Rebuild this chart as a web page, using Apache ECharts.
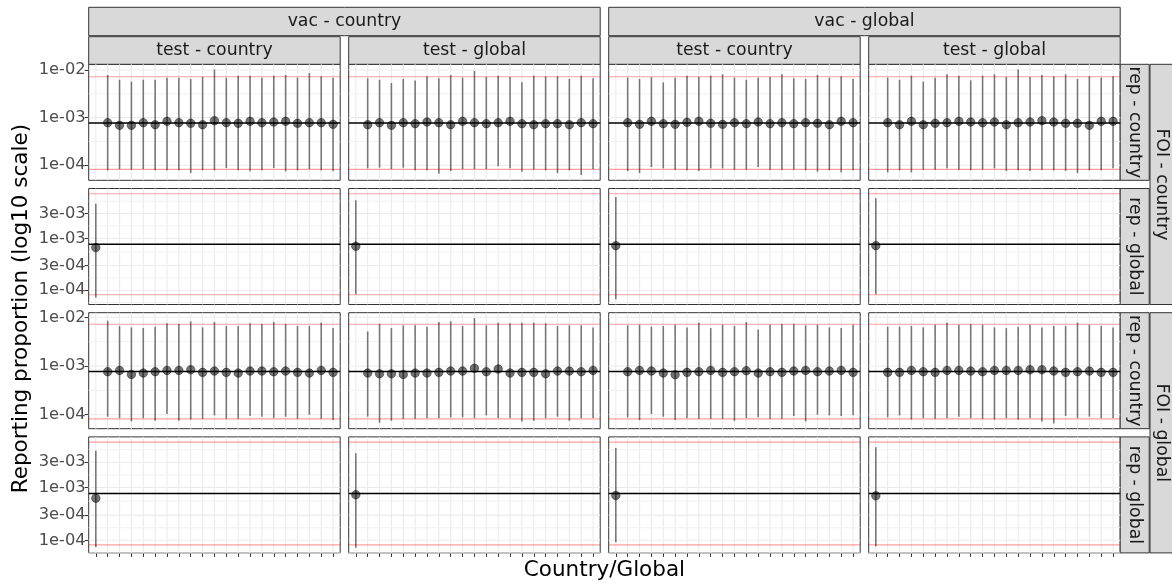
<!DOCTYPE html>
<html><head><meta charset="utf-8">
<script src="https://cdn.jsdelivr.net/npm/echarts@6/dist/echarts.min.js"></script>
<style>html,body{margin:0;padding:0;background:#fff}#c{width:1172px;height:584px}</style>
</head><body><div id="c"></div>
<script>
// ---------------- data ----------------
const categories = ['Global','C01','C02','C03','C04','C05','C06','C07','C08','C09','C10',
  'C11','C12','C13','C14','C15','C16','C17','C18','C19','C20'];
const countryCats = categories.slice(1);
const vacLevels = ['vac - country','vac - global'];
const testLevels = ['test - country','test - global'];
const foiLevels = ['FOI - country','FOI - global'];
const repLevels = ['rep - country','rep - global'];

const trueValue = 7.7e-4;
const priorLow = 8.2e-5;
const priorHigh = 7.2e-3;

const yBreaksCountry = [1e-4, 1e-3, 1e-2];
const yLabelsCountry = ['1e-04','1e-03','1e-02'];
const yBreaksGlobal = [1e-4, 3e-4, 1e-3, 3e-3];
const yLabelsGlobal = ['1e-04','3e-04','1e-03','3e-03'];

// FOI - country, rep - country
const fcVcTcEst = [7.84e-4,6.89e-4,6.89e-4,7.84e-4,7.11e-4,8.36e-4,7.84e-4,7.59e-4,7.11e-4,8.64e-4,7.84e-4,7.59e-4,8.36e-4,7.84e-4,8.09e-4,8.36e-4,7.59e-4,7.84e-4,7.84e-4,7.22e-4];
const fcVcTcHi  = [7.85e-3,6.25e-3,5.68e-3,6.25e-3,6.25e-3,6.9e-3,6.9e-3,6.46e-3,7.13e-3,1.02e-2,6.9e-3,7.6e-3,7.6e-3,6.9e-3,7.6e-3,7.85e-3,6.9e-3,8.65e-3,7.36e-3,6.9e-3];
const fcVcTcLo  = [7.83e-5,8.35e-5,8.09e-5,8.35e-5,7.83e-5,7.83e-5,7.83e-5,6.87e-5,7.83e-5,7.83e-5,8.77e-5,7.83e-5,7.45e-5,7.83e-5,8.77e-5,7.45e-5,7.83e-5,8.35e-5,7.83e-5,7.45e-5];

const fcVcTgEst = [7.11e-4,7.84e-4,6.89e-4,7.84e-4,7.47e-4,8.09e-4,7.84e-4,7.11e-4,8.36e-4,7.84e-4,7.47e-4,7.84e-4,8.36e-4,7.47e-4,7.11e-4,7.47e-4,7.47e-4,7.11e-4,7.84e-4,7.47e-4];
const fcVcTgHi  = [6.68e-3,6.25e-3,5.32e-3,6.46e-3,6.05e-3,7.36e-3,6.68e-3,7.85e-3,6.9e-3,9.54e-3,7.13e-3,7.6e-3,7.13e-3,5.5e-3,7.6e-3,7.36e-3,7.36e-3,6.46e-3,7.6e-3,6.68e-3];
const fcVcTgLo  = [8.63e-5,8.91e-5,8.35e-5,8.91e-5,7.83e-5,7.83e-5,6.65e-5,7.59e-5,8.35e-5,8.35e-5,8.35e-5,9.5e-5,8.63e-5,7.33e-5,8.09e-5,7.83e-5,6.87e-5,7.83e-5,6.24e-5,8.35e-5];

const fcVgTcEst = [7.84e-4,7.22e-4,8.36e-4,7.47e-4,7.22e-4,7.96e-4,8.36e-4,7.59e-4,7.22e-4,7.84e-4,7.47e-4,8.09e-4,7.47e-4,7.84e-4,7.47e-4,7.84e-4,7.59e-4,7.11e-4,8.36e-4,7.84e-4];
const fcVgTcHi  = [6.9e-3,6.46e-3,7.02e-3,5.5e-3,6.9e-3,7.6e-3,7.13e-3,7.6e-3,8.11e-3,6.9e-3,6.25e-3,6.9e-3,7.13e-3,8.11e-3,6.68e-3,6.46e-3,7.85e-3,6.9e-3,7.36e-3,6.46e-3];
const fcVgTcLo  = [7.59e-5,6.87e-5,9.2e-5,8.63e-5,8.09e-5,7.83e-5,7.59e-5,8.63e-5,8.63e-5,8.09e-5,8.09e-5,9.2e-5,8.09e-5,8.09e-5,8.09e-5,7.83e-5,7.33e-5,7.83e-5,7.1e-5,7.83e-5];

const fcVgTgEst = [7.84e-4,7.11e-4,8.36e-4,7.11e-4,7.59e-4,7.84e-4,8.36e-4,8.09e-4,7.84e-4,8.09e-4,7.11e-4,7.84e-4,8.09e-4,8.64e-4,8.09e-4,7.59e-4,7.59e-4,6.89e-4,8.36e-4,8.36e-4];
const fcVgTgHi  = [6.9e-3,6.25e-3,7.6e-3,5.68e-3,6.9e-3,8.11e-3,7.6e-3,6.05e-3,7.6e-3,8.11e-3,7.13e-3,1.02e-2,7.13e-3,7.85e-3,7.36e-3,8.11e-3,6.46e-3,7.36e-3,6.9e-3,7.36e-3];
const fcVgTgLo  = [7.1e-5,7.83e-5,7.1e-5,8.09e-5,8.09e-5,8.63e-5,8.09e-5,7.83e-5,8.09e-5,8.63e-5,7.59e-5,7.83e-5,7.59e-5,8.09e-5,7.83e-5,7.59e-5,6.87e-5,7.83e-5,7.83e-5,8.63e-5];

// FOI - global, rep - country
const fgVcTcEst = [7.64e-4,8.13e-4,6.73e-4,7.16e-4,7.64e-4,8.13e-4,8.13e-4,8.4e-4,7.4e-4,7.88e-4,7.4e-4,7.16e-4,7.88e-4,7.88e-4,7.64e-4,7.88e-4,7.4e-4,7.16e-4,8.13e-4,7.4e-4];
const fgVcTcHi  = [8.53e-3,6.62e-3,6.21e-3,6.01e-3,6.41e-3,7.51e-3,7.28e-3,8.26e-3,6.21e-3,8.0e-3,6.62e-3,6.62e-3,7.51e-3,7.28e-3,8.0e-3,7.28e-3,6.62e-3,6.62e-3,7.76e-3,6.01e-3];
const fgVcTcLo  = [9.09e-5,8.53e-5,7.28e-5,8.53e-5,7.51e-5,1.03e-4,7.51e-5,8.0e-5,8.26e-5,9.69e-5,8.26e-5,8.26e-5,9.38e-5,9.09e-5,8.53e-5,9.09e-5,8.26e-5,1.0e-4,8.26e-5,7.76e-5];

const fgVcTgEst = [7.16e-4,6.93e-4,6.93e-4,6.73e-4,7.16e-4,7.16e-4,7.4e-4,7.88e-4,7.88e-4,8.95e-4,7.64e-4,8.67e-4,7.16e-4,7.4e-4,7.4e-4,6.93e-4,7.88e-4,7.88e-4,7.64e-4,8.13e-4];
const fgVcTgHi  = [5.13e-3,7.28e-3,6.01e-3,6.83e-3,6.83e-3,6.41e-3,8.0e-3,8.26e-3,6.62e-3,9.69e-3,6.83e-3,7.76e-3,7.51e-3,7.76e-3,7.76e-3,7.51e-3,6.62e-3,6.83e-3,6.83e-3,6.21e-3];
const fgVcTgLo  = [9.09e-5,6.83e-5,7.51e-5,8.26e-5,8.26e-5,8.53e-5,8.53e-5,8.82e-5,8.82e-5,8.53e-5,9.69e-5,8.53e-5,8.53e-5,7.28e-5,7.51e-5,8.53e-5,9.09e-5,7.51e-5,8.53e-5,8.53e-5];

const fgVgTcEst = [7.64e-4,8.13e-4,7.88e-4,7.16e-4,6.62e-4,7.4e-4,7.64e-4,8.13e-4,7.4e-4,7.64e-4,8.0e-4,7.16e-4,7.64e-4,7.4e-4,7.88e-4,8.13e-4,7.64e-4,7.88e-4,8.13e-4,7.4e-4];
const fgVgTcHi  = [6.83e-3,7.05e-3,6.41e-3,6.62e-3,7.05e-3,6.21e-3,7.76e-3,6.01e-3,7.05e-3,6.62e-3,8.0e-3,5.65e-3,7.05e-3,7.28e-3,7.28e-3,6.83e-3,7.05e-3,6.21e-3,6.01e-3,7.05e-3];
const fgVgTcLo  = [8.82e-5,7.76e-5,1.03e-4,9.09e-5,7.76e-5,8.53e-5,8.26e-5,8.26e-5,8.26e-5,7.51e-5,8.53e-5,8.82e-5,8.26e-5,8.26e-5,9.38e-5,7.28e-5,1.0e-4,9.69e-5,9.38e-5,9.69e-5];

const fgVgTgEst = [7.4e-4,7.4e-4,8.13e-4,7.64e-4,7.4e-4,8.13e-4,8.13e-4,7.88e-4,7.64e-4,8.13e-4,8.13e-4,8.13e-4,8.4e-4,8.4e-4,7.88e-4,7.4e-4,7.64e-4,7.88e-4,7.4e-4,7.4e-4];
const fgVgTgHi  = [6.41e-3,6.41e-3,6.62e-3,6.21e-3,7.05e-3,7.76e-3,7.05e-3,7.28e-3,7.05e-3,6.21e-3,6.01e-3,6.41e-3,7.05e-3,6.21e-3,6.62e-3,6.62e-3,7.76e-3,7.05e-3,6.62e-3,6.21e-3];
const fgVgTgLo  = [8.82e-5,9.69e-5,8.0e-5,8.53e-5,8.26e-5,8.53e-5,9.09e-5,8.53e-5,8.26e-5,8.0e-5,8.53e-5,8.0e-5,8.53e-5,7.28e-5,6.62e-5,9.38e-5,8.53e-5,9.09e-5,8.53e-5,8.53e-5];

// rep - global panels (one Global estimate per column: vacC-testC, vacC-testG, vacG-testC, vacG-testG)
const fcGlobalEst = [6.62e-4, 7.02e-4, 7.22e-4, 7.22e-4];
const fcGlobalLo  = [7.23e-5, 8.37e-5, 6.71e-5, 8.37e-5];
const fcGlobalHi  = [4.64e-3, 5.38e-3, 6.24e-3, 5.88e-3];
const fgGlobalEst = [6.26e-4, 7.26e-4, 7.05e-4, 6.95e-4];
const fgGlobalLo  = [7.46e-5, 7.26e-5, 9.16e-5, 7.69e-5];
const fgGlobalHi  = [4.97e-3, 4.43e-3, 5.58e-3, 5.74e-3];

// ---------------- layout / style ----------------
const FONT = '"DejaVu Sans", sans-serif';
const PANEL_LEFT = 88.7, PANEL_W = 251.5, GAP_X = 8.5;
const PANEL_TOP = 64.3, PANEL_H = 116, GAP_Y = 8.2;
const colLeft = c => PANEL_LEFT + c * (PANEL_W + GAP_X);
const rowTop = r => PANEL_TOP + r * (PANEL_H + GAP_Y);

const L = Math.log10;
const xOf = name => categories.indexOf(name) + 1;

function countryPanel(est, lo, hi) { return {cats: countryCats, est, lo, hi}; }
function globalPanel(est, lo, hi, c) { return {cats: ['Global'], est: [est[c]], lo: [lo[c]], hi: [hi[c]]}; }

const rows = [
  {global: false, panels: [countryPanel(fcVcTcEst,fcVcTcLo,fcVcTcHi), countryPanel(fcVcTgEst,fcVcTgLo,fcVcTgHi), countryPanel(fcVgTcEst,fcVgTcLo,fcVgTcHi), countryPanel(fcVgTgEst,fcVgTgLo,fcVgTgHi)]},
  {global: true, panels: [0,1,2,3].map(c => globalPanel(fcGlobalEst, fcGlobalLo, fcGlobalHi, c))},
  {global: false, panels: [countryPanel(fgVcTcEst,fgVcTcLo,fgVcTcHi), countryPanel(fgVcTgEst,fgVcTgLo,fgVcTgHi), countryPanel(fgVgTcEst,fgVgTcLo,fgVgTcHi), countryPanel(fgVgTgEst,fgVgTgLo,fgVgTgHi)]},
  {global: true, panels: [0,1,2,3].map(c => globalPanel(fgGlobalEst, fgGlobalLo, fgGlobalHi, c))}
];

function rowRange(panels) {
  const los = [L(priorLow), L(trueValue)], his = [L(priorHigh), L(trueValue)];
  panels.forEach(p => { p.lo.forEach(v => los.push(L(v))); p.hi.forEach(v => his.push(L(v))); });
  const a = Math.min(...los), b = Math.max(...his), pad = (b - a) * 0.05;
  return [a - pad, b + pad];
}
function minorBreaks(b, lim) {
  const bd = b[1] - b[0], bb = b.slice();
  if (lim[0] < bb[0]) bb.unshift(bb[0] - bd);
  if (lim[1] > bb[bb.length - 1]) bb.push(bb[bb.length - 1] + bd);
  const out = [];
  for (let i = 0; i < bb.length - 1; i++) { const m = (bb[i] + bb[i + 1]) / 2; if (m >= lim[0] && m <= lim[1]) out.push(m); }
  return out;
}

const ruleStyles = {
  0: {stroke: '#EBEBEB', lineWidth: 1.1},
  1: {stroke: '#EBEBEB', lineWidth: 1.1},
  2: {stroke: '#F0F0F0', lineWidth: 0.9},
  3: {stroke: 'rgba(255,0,0,0.38)', lineWidth: 1.1},
  4: {stroke: '#000000', lineWidth: 1.4}
};
function renderRule(params, api) {
  const cs = params.coordSys;
  const kind = api.value(0), v = api.value(1);
  if (kind === 0) {
    const x = api.coord([v, 0])[0];
    return {type: 'line', shape: {x1: x, y1: cs.y, x2: x, y2: cs.y + cs.height}, style: ruleStyles[kind], silent: true};
  }
  const y = api.coord([1, v])[1];
  return {type: 'line', shape: {x1: cs.x, y1: y, x2: cs.x + cs.width, y2: y}, style: ruleStyles[kind], silent: true};
}
function renderBar(params, api) {
  const x = api.value(0);
  const p1 = api.coord([x, api.value(1)]), p2 = api.coord([x, api.value(2)]);
  return {type: 'line', shape: {x1: p1[0], y1: p1[1], x2: p2[0], y2: p2[1]},
          style: {stroke: 'rgba(0,0,0,0.5)', lineWidth: 1.6}, silent: true};
}

const grids = [], xAxes = [], yAxes = [], series = [];
const xTickVals = categories.map(xOf);

rows.forEach((row, r) => {
  const range = rowRange(row.panels);
  const breaks = (row.global ? yBreaksGlobal : yBreaksCountry).map(L);
  const labels = row.global ? yLabelsGlobal : yLabelsCountry;
  const majors = breaks.filter(b => b >= range[0] && b <= range[1]);
  const minors = minorBreaks(breaks, range);
  row.panels.forEach((p, c) => {
    const g = r * 4 + c;
    grids.push({left: colLeft(c), top: rowTop(r), width: PANEL_W, height: PANEL_H,
      show: true, borderColor: '#333333', borderWidth: 1, backgroundColor: 'transparent', containLabel: false});
    xAxes.push({gridIndex: g, type: 'value', min: 0.4, max: categories.length + 0.6,
      axisLine: {show: false}, splitLine: {show: false},
      axisLabel: {show: false},
      axisTick: {show: r === 3, customValues: xTickVals, length: 4, lineStyle: {color: '#333333', width: 1}}});
    yAxes.push({gridIndex: g, type: 'value', min: range[0], max: range[1],
      axisLine: {show: false}, splitLine: {show: false},
      axisTick: {show: c === 0, customValues: majors, length: 4, lineStyle: {color: '#333333', width: 1}},
      axisLabel: {show: c === 0, customValues: majors, margin: 3, color: '#4D4D4D', fontSize: 16.3, fontFamily: FONT,
        formatter: val => { const i = breaks.findIndex(b => Math.abs(b - val) < 1e-6); return i >= 0 ? labels[i] : ''; }}});

    const rules = xTickVals.map(x => [0, x])
      .concat(minors.map(v => [2, v]))
      .concat(majors.map(v => [1, v]));
    series.push({type: 'custom', xAxisIndex: g, yAxisIndex: g, z: 1, silent: true,
      renderItem: renderRule, data: rules});
    series.push({type: 'custom', xAxisIndex: g, yAxisIndex: g, z: 2, silent: true,
      renderItem: renderRule, data: [[3, L(priorLow)], [3, L(priorHigh)], [4, L(trueValue)]]});
    series.push({type: 'custom', xAxisIndex: g, yAxisIndex: g, z: 3, silent: true,
      renderItem: renderBar, encode: {x: 0, y: [1, 2]},
      data: p.cats.map((name, i) => [xOf(name), L(p.lo[i]), L(p.hi[i])])});
    series.push({type: 'scatter', xAxisIndex: g, yAxisIndex: g, z: 4, silent: true,
      symbol: 'circle', symbolSize: 8.5,
      itemStyle: {color: 'rgba(0,0,0,0.55)', borderColor: 'rgba(0,0,0,0.4)', borderWidth: 1, opacity: 1},
      data: p.cats.map((name, i) => [xOf(name), L(p.est[i])])});
  });
});

// ---------------- strips & titles ----------------
const STRIP_FILL = '#D9D9D9', STRIP_STROKE = '#333333', STRIP_TEXT = '#1A1A1A', STRIP_FS = 17.3;
const els = [];
function strip(x, y, w, h, text, vertical, tx, ty) {
  els.push({type: 'rect', shape: {x, y, width: w, height: h}, style: {fill: STRIP_FILL, stroke: STRIP_STROKE, lineWidth: 1}, silent: true});
  els.push({type: 'text', x: tx !== undefined ? tx : x + w / 2, y: ty !== undefined ? ty : y + h / 2,
    rotation: vertical ? -Math.PI / 2 : 0, silent: true,
    style: {text, fill: STRIP_TEXT, font: STRIP_FS + 'px ' + FONT, align: 'center', verticalAlign: 'middle',
            textAlign: 'center', textVerticalAlign: 'middle'}});
}
vacLevels.forEach((t, i) => {
  const x0 = colLeft(2 * i), x1 = colLeft(2 * i + 1) + PANEL_W;
  strip(x0, 7.3, x1 - x0, 28.4, t, false);
});
[0, 1, 2, 3].forEach(c => strip(colLeft(c), 36.7, PANEL_W, 27.6, testLevels[c % 2], false));
[0, 1, 2, 3].forEach(r => strip(1120.2, rowTop(r), 29, PANEL_H, repLevels[r % 2], true));
foiLevels.forEach((t, f) => {
  const y0 = rowTop(2 * f), y1 = rowTop(2 * f + 1) + PANEL_H;
  strip(1150, y0, 30, y1 - y0, t, true, 1161.5, (y0 + y1) / 2);
});
els.push({type: 'text', x: 21, y: (rowTop(0) + rowTop(3) + PANEL_H) / 2, rotation: Math.PI / 2, silent: true,
  style: {text: 'Reporting proportion (log10 scale)', fill: '#000', font: '21.5px ' + FONT,
          align: 'center', verticalAlign: 'middle', textAlign: 'center', textVerticalAlign: 'middle'}});
els.push({type: 'text', x: (colLeft(0) + colLeft(3) + PANEL_W) / 2, y: 570.5, silent: true,
  style: {text: 'Country/Global', fill: '#000', font: '21.5px ' + FONT,
          align: 'center', verticalAlign: 'middle', textAlign: 'center', textVerticalAlign: 'middle'}});

const chart = echarts.init(document.getElementById('c'), null, {renderer: 'canvas'});
chart.setOption({
  animation: false,
  backgroundColor: '#ffffff',
  grid: grids, xAxis: xAxes, yAxis: yAxes, series,
  graphic: {elements: els}
});
</script>
</body></html>
